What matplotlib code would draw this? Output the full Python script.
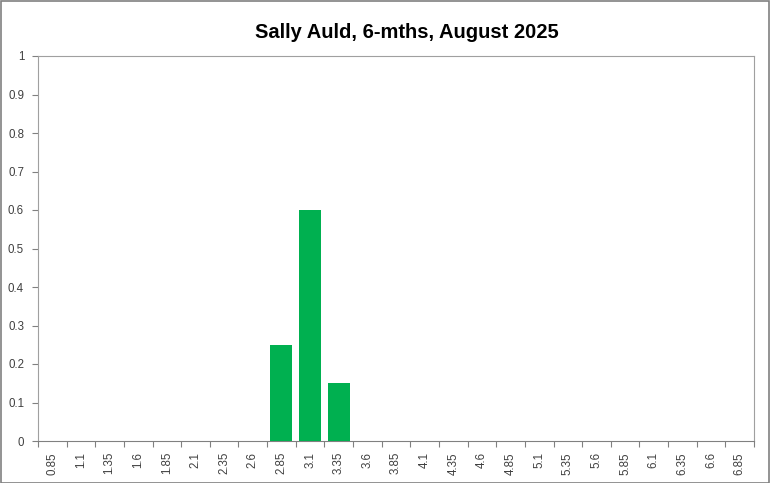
import matplotlib
matplotlib.use("Agg")
import matplotlib.pyplot as plt
import numpy as np
from matplotlib.ticker import FixedLocator, NullFormatter

categories = ["0.85", "1.1", "1.35", "1.6", "1.85", "2.1", "2.35", "2.6", "2.85", "3.1",
              "3.35", "3.6", "3.85", "4.1", "4.35", "4.6", "4.85", "5.1", "5.35", "5.6",
              "5.85", "6.1", "6.35", "6.6", "6.85"]
values = [0, 0, 0, 0, 0, 0, 0, 0, 0.25, 0.6,
          0.15, 0, 0, 0, 0, 0, 0, 0, 0, 0,
          0, 0, 0, 0, 0]
yticks = [0, 0.1, 0.2, 0.3, 0.4, 0.5, 0.6, 0.7, 0.8, 0.9, 1]
ytick_labels = ["0", "0.1", "0.2", "0.3", "0.4", "0.5", "0.6", "0.7", "0.8", "0.9", "1"]
title = "Sally Auld, 6-mths, August 2025"

plt.rcParams['font.family'] = ['Liberation Sans', 'DejaVu Sans']

fig = plt.figure(figsize=(7.7, 4.83), dpi=100)
fig.patch.set_facecolor("white")
ax = fig.add_axes([38/770, 1 - 441/483, (754-38)/770, (441-56)/483])

x = np.arange(len(categories))
ax.bar(x, values, width=0.77, color="#00B050", edgecolor="none", zorder=3)

ax.set_xlim(-0.5, len(categories) - 0.5)
ax.set_ylim(0, 1)
ax.set_xticks(x)
ax.set_xticklabels(categories, rotation=90, fontsize=8.3, color="#404040")
ax.tick_params(axis="x", which="major", length=0, pad=8)
ax.xaxis.set_minor_locator(FixedLocator(np.arange(-0.5, len(categories) + 0.5, 1)))
ax.xaxis.set_minor_formatter(NullFormatter())
ax.tick_params(axis="x", which="minor", length=4, color="#808080", width=0.8)

ax.set_yticks(yticks)
ax.set_yticklabels(ytick_labels, fontsize=8.3, color="#404040")
ax.tick_params(axis="y", length=4, color="#808080", width=0.8, pad=6)

for s in ax.spines.values():
    s.set_color("#A0A0A0")
    s.set_linewidth(0.8)
ax.spines["bottom"].set_color("#808080")

fig.text(407/770, 1 - 32/483, title, ha="center", va="center", fontsize=14.5,
         fontweight="bold", color="#000000")

border = plt.Rectangle((0.001, 0.001), 0.998, 0.997, transform=fig.transFigure,
                       fill=False, edgecolor="#808080", linewidth=1.2)
fig.add_artist(border)

fig.savefig("out.png", dpi=100, facecolor="white")
